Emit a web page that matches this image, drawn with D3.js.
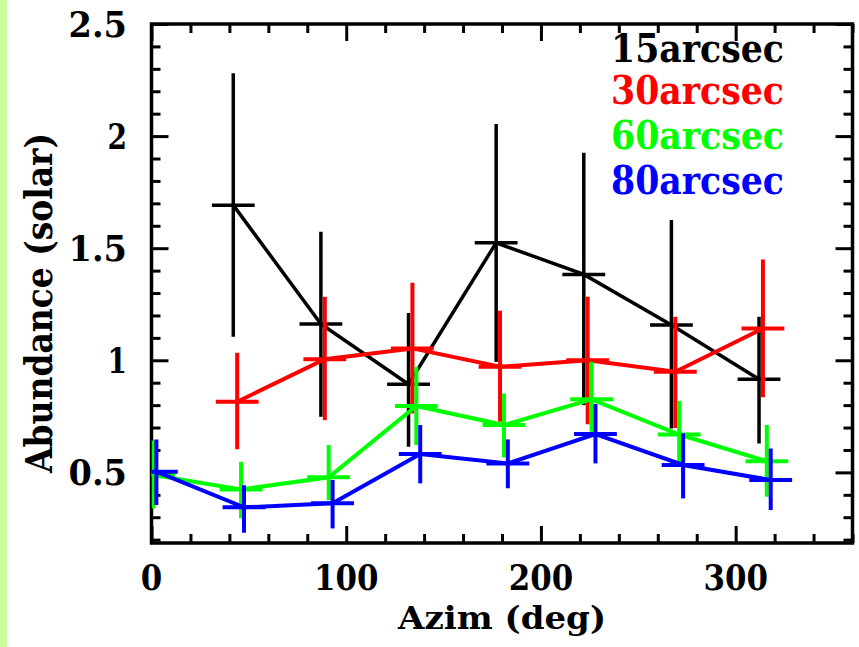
<!DOCTYPE html>
<html>
<head>
<meta charset="utf-8">
<script src="https://cdn.jsdelivr.net/npm/d3@7"></script>
<style>
    body { margin: 0; background: #ffffff; }
    svg { display: block; }
    text { font-family: "DejaVu Serif", "Liberation Serif", serif; font-weight: bold; }
</style>
</head>
<body>
<svg id="chart" width="859" height="647"></svg>
<script>
    // values (azimuth in deg, abundance in solar units)
    var seriesNames = ["15arcsec", "30arcsec", "60arcsec", "80arcsec"];
    var seriesColors = ["#000000", "#ff0000", "#00ff00", "#0000ff"];

    var azim15 = [42, 87, 132, 177, 222, 267, 312];
    var abund15 = [1.692, 1.162, 0.893, 1.524, 1.383, 1.157, 0.915];
    var low15 = [1.105, 0.748, 0.614, 0.993, 0.800, 0.696, 0.629];
    var high15 = [2.280, 1.573, 1.211, 2.054, 1.926, 1.626, 1.194];

    var azim30 = [44, 89, 134, 179, 224, 269, 314];
    var abund30 = [0.815, 1.005, 1.053, 0.971, 1.000, 0.949, 1.142];
    var low30 = [0.603, 0.733, 0.763, 0.726, 0.715, 0.698, 0.835];
    var high30 = [1.034, 1.283, 1.346, 1.221, 1.283, 1.194, 1.450];

    var azim60 = [1, 46, 91, 136, 181, 226, 271, 316];
    var abund60 = [0.488, 0.424, 0.478, 0.796, 0.711, 0.826, 0.669, 0.550];
    var low60 = [0.339, 0.295, 0.376, 0.622, 0.567, 0.681, 0.525, 0.391];
    var high60 = [0.641, 0.547, 0.622, 0.971, 0.852, 0.993, 0.819, 0.711];

    var azim80 = [2.5, 47.5, 93, 138, 183, 228, 273, 318];
    var abund80 = [0.503, 0.344, 0.362, 0.582, 0.540, 0.671, 0.533, 0.466];
    var low80 = [0.354, 0.231, 0.250, 0.451, 0.429, 0.540, 0.384, 0.332];
    var high80 = [0.647, 0.443, 0.466, 0.711, 0.647, 0.805, 0.674, 0.607];

    var azimHalfWidth = 11;

    var xMajorTicks = [0, 100, 200, 300];
    var xTickLabels = ["0", "100", "200", "300"];
    var yMajorTicks = [0.5, 1, 1.5, 2, 2.5];
    var yTickLabels = ["0.5", "1", "1.5", "2", "2.5"];

    (function () {
        var svg = d3.select("#chart"),
            height = +svg.attr("height");

        var plotLeft = 151.5, plotRight = 852.5, plotTop = 24, plotBottom = 543;

        var x = d3.scaleLinear().domain([0, 360]).range([plotLeft, plotRight]);
        var y = d3.scaleLinear().domain([0.185, 2.5]).range([plotBottom, plotTop]);

        // light green strip on the left of the page
        svg.append("rect").attr("x", 0).attr("y", 0)
            .attr("width", 7).attr("height", height)
            .style("fill", "#ccff99");

        svg.append("clipPath").attr("id", "plotclip")
            .append("rect")
            .attr("x", plotLeft).attr("y", plotTop)
            .attr("width", plotRight - plotLeft).attr("height", plotBottom - plotTop);

        /**
         * bold text squeezed to a given width, baseline at (px, py)
         */
        function fitText(g, str, px, py, size, len, anchor, color) {
            return g.append("text")
                .attr("x", px).attr("y", py)
                .attr("text-anchor", anchor)
                .attr("textLength", len)
                .attr("lengthAdjust", "spacingAndGlyphs")
                .style("font-size", size + "px")
                .style("fill", color)
                .text(str);
        }

        // ticks, inward on all four sides
        var xMinor = d3.range(0, 361, 20).filter(function (d) { return d % 100 !== 0; });
        var yMinor = d3.range(2, 25).map(function (d) { return d / 10; })
            .filter(function (d) { return Math.abs(d * 2 - Math.round(d * 2)) > 1e-6; });

        function drawAxis(axisFn, scale, values, size, transform) {
            var g = svg.append("g")
                .attr("transform", transform)
                .call(axisFn(scale).tickValues(values).tickSize(-size).tickFormat(""));
            g.select(".domain").remove();
            g.selectAll("line").style("stroke", "#000").style("stroke-width", 3);
        }

        drawAxis(d3.axisBottom, x, xMajorTicks, 17, "translate(0," + plotBottom + ")");
        drawAxis(d3.axisBottom, x, xMinor, 9, "translate(0," + plotBottom + ")");
        drawAxis(d3.axisTop, x, xMajorTicks, 17, "translate(0," + plotTop + ")");
        drawAxis(d3.axisTop, x, xMinor, 9, "translate(0," + plotTop + ")");
        drawAxis(d3.axisLeft, y, yMajorTicks, 17, "translate(" + plotLeft + ",0)");
        drawAxis(d3.axisLeft, y, yMinor, 9, "translate(" + plotLeft + ",0)");
        drawAxis(d3.axisRight, y, yMajorTicks, 17, "translate(" + plotRight + ",0)");
        drawAxis(d3.axisRight, y, yMinor, 9, "translate(" + plotRight + ",0)");

        // frame
        svg.append("rect")
            .attr("x", plotLeft).attr("y", plotTop)
            .attr("width", plotRight - plotLeft).attr("height", plotBottom - plotTop)
            .style("fill", "none").style("stroke", "#000").style("stroke-width", 3.5);

        // tick labels
        var labels = svg.append("g");
        xMajorTicks.forEach(function (d, i) {
            var w = xTickLabels[i].length * 21.5;
            fitText(labels, xTickLabels[i], x(d), 590, 36, w, "middle", "#000");
        });
        yMajorTicks.forEach(function (d, i) {
            var w = yTickLabels[i].length * 19.5;
            fitText(labels, yTickLabels[i], 127, y(d) + 13, 36, w, "end", "#000");
        });

        // axis titles
        fitText(labels, "Azim (deg)", (plotLeft + plotRight) / 2, 629, 31, 208, "middle", "#000");
        labels.append("g")
            .attr("transform", "translate(52,303) rotate(-90)")
            .call(function (g) {
                fitText(g, "Abundance (solar)", 0, 0, 38, 340, "middle", "#000");
            });

        // data
        var allSeries = [
            {x: azim15, v: abund15, lo: low15, hi: high15, w: 3.5},
            {x: azim30, v: abund30, lo: low30, hi: high30, w: 4},
            {x: azim60, v: abund60, lo: low60, hi: high60, w: 4},
            {x: azim80, v: abund80, lo: low80, hi: high80, w: 4}
        ];

        var line = d3.line()
            .x(function (d) { return x(d.x); })
            .y(function (d) { return y(d.v); });

        var plot = svg.append("g").attr("clip-path", "url(#plotclip)");

        allSeries.forEach(function (s, k) {
            var pts = s.x.map(function (d, i) {
                return {x: d, v: s.v[i], lo: s.lo[i], hi: s.hi[i]};
            });
            var g = plot.append("g")
                .style("stroke", seriesColors[k])
                .style("stroke-width", s.w)
                .style("fill", "none");

            g.append("path").datum(pts).attr("d", line);

            g.selectAll(".ey").data(pts).enter().append("line")
                .attr("class", "ey")
                .attr("x1", function (d) { return x(d.x); })
                .attr("x2", function (d) { return x(d.x); })
                .attr("y1", function (d) { return y(d.lo); })
                .attr("y2", function (d) { return y(d.hi); });

            g.selectAll(".ex").data(pts).enter().append("line")
                .attr("class", "ex")
                .attr("x1", function (d) { return x(d.x - azimHalfWidth); })
                .attr("x2", function (d) { return x(d.x + azimHalfWidth); })
                .attr("y1", function (d) { return y(d.v); })
                .attr("y2", function (d) { return y(d.v); });
        });

        // legend
        var legendY = [61.5, 104, 149, 194];
        seriesNames.forEach(function (name, k) {
            fitText(labels, name, 611, legendY[k], 40, 173, "start", seriesColors[k]);
        });
    })();
</script>
</body>
</html>
